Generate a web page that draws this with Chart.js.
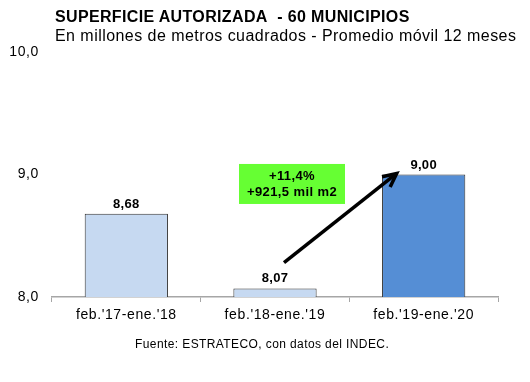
<!DOCTYPE html>
<html>
<head>
<meta charset="utf-8">
<script src="https://cdn.jsdelivr.net/npm/chart.js@4"></script>
<style>
  html, body { margin: 0; padding: 0; background: #fff; }
  #wrap { position: relative; width: 530px; height: 382px; font-family: "Liberation Sans", Arial, sans-serif; }
  canvas { position: absolute; left: 0; top: 0; }
  .t1 { position: absolute; left: 55px; top: 8px; font-size: 16px; letter-spacing: 0.35px; font-weight: bold; color: #000; white-space: nowrap; }
  .t2 { position: absolute; left: 55px; top: 27px; font-size: 16px; letter-spacing: 0.45px; color: #000; white-space: nowrap; }
  .src { position: absolute; left: 135px; top: 337px; font-size: 12px; letter-spacing: 0.4px; color: #000; white-space: nowrap; }
</style>
</head>
<body>
<div id="wrap">
  <canvas id="c" width="530" height="382"></canvas>
  <div class="t1">SUPERFICIE AUTORIZADA&nbsp; - 60 MUNICIPIOS</div>
  <div class="t2">En millones de metros cuadrados - Promedio móvil 12 meses</div>
  <div class="src">Fuente: ESTRATECO, con datos del INDEC.</div>
</div>
<script>
const categories = ["feb.'17-ene.'18", "feb.'18-ene.'19", "feb.'19-ene.'20"];
const values = [8.68, 8.07, 9.00];
const valueLabels = ["8,68", "8,07", "9,00"];
const yTicks = [8, 9, 10];
const noteLines = ["+11,4%", "+921,5 mil m2"];

const fmt = v => v.toFixed(1).replace('.', ',');

const spacing = {
  id: 'spacing',
  beforeDraw(chart) { chart.ctx.letterSpacing = '0.6px'; },
  afterDraw(chart) { chart.ctx.letterSpacing = '0px'; }
};

const overlay = {
  id: 'overlay',
  afterDatasetsDraw(chart) {
    const ctx = chart.ctx;
    const meta = chart.getDatasetMeta(0);
    const xs = chart.scales.x, ys = chart.scales.y;
    ctx.save();
    ctx.letterSpacing = '0.3px';
    // value labels
    ctx.font = 'bold 13px "Liberation Sans", Arial, sans-serif';
    ctx.fillStyle = '#000';
    ctx.textAlign = 'center';
    ctx.textBaseline = 'alphabetic';
    meta.data.forEach((bar, i) => {
      ctx.fillText(valueLabels[i], bar.x, bar.y - 6);
    });
    // arrow from bar 2 to bar 3
    const x0 = xs.getPixelForValue(1) + 9;
    const y0 = ys.getPixelForValue(8.28);
    const x1 = xs.getPixelForValue(2) - 27;
    const y1 = ys.getPixelForValue(values[2]) - 1;
    const ang = Math.atan2(y1 - y0, x1 - x0);
    const head = 15;
    ctx.strokeStyle = '#000';
    ctx.lineWidth = 3.5;
    ctx.beginPath();
    ctx.moveTo(x0, y0);
    ctx.lineTo(x1 - Math.cos(ang) * 4, y1 - Math.sin(ang) * 4);
    ctx.stroke();
    ctx.lineJoin = 'miter';
    ctx.beginPath();
    ctx.moveTo(x1 - head * Math.cos(ang - 0.45), y1 - head * Math.sin(ang - 0.45));
    ctx.lineTo(x1, y1);
    ctx.lineTo(x1 - head * Math.cos(ang + 0.45), y1 - head * Math.sin(ang + 0.45));
    ctx.stroke();
    // green note box
    const bx = xs.getPixelForValue(1) - 36;
    const bw = 106, bh = 40;
    const byTop = ys.getPixelForValue(9.086);
    ctx.fillStyle = '#66FF33';
    ctx.fillRect(bx, byTop, bw, bh);
    ctx.fillStyle = '#000';
    ctx.font = 'bold 13px "Liberation Sans", Arial, sans-serif';
    ctx.letterSpacing = '0.4px';
    ctx.textAlign = 'center';
    ctx.textBaseline = 'middle';
    ctx.fillText(noteLines[0], bx + bw / 2, byTop + 12);
    ctx.fillText(noteLines[1], bx + bw / 2, byTop + 28);
    ctx.restore();
  }
};

new Chart(document.getElementById('c'), {
  type: 'bar',
  data: {
    labels: categories,
    datasets: [{
      data: values,
      backgroundColor: ['#C6D9F1', '#C6D9F1', '#558ED5'],
      borderColor: '#333333',
      borderWidth: 1,
      borderSkipped: 'bottom',
      categoryPercentage: 1,
      barPercentage: 0.56
    }]
  },
  options: {
    responsive: false,
    animation: false,
    devicePixelRatio: 1,
    layout: { padding: { left: 0, right: 32, top: 52, bottom: 0 } },
    plugins: { legend: { display: false }, tooltip: { enabled: false }, title: { display: false } },
    scales: {
      x: {
        offset: true,
        grid: { display: true, drawOnChartArea: false, drawTicks: true, tickLength: 5, color: '#A6A6A6', offset: true },
        border: { display: true, color: '#A6A6A6', width: 1.5 },
        ticks: { color: '#000', font: { family: '"Liberation Sans", Arial, sans-serif', size: 14 }, padding: 5, maxRotation: 0 },
        afterFit(scale) { scale.height = 85; }
      },
      y: {
        min: 8, max: 10,
        afterBuildTicks(scale) { scale.ticks = yTicks.map(v => ({ value: v })); },
        grid: { display: false, drawTicks: false },
        border: { display: false },
        ticks: { color: '#000', font: { family: '"Liberation Sans", Arial, sans-serif', size: 14 }, padding: 13, callback: v => fmt(v) },
        afterFit(scale) { scale.width = 52; }
      }
    }
  },
  plugins: [spacing, overlay]
});
</script>
</body>
</html>
